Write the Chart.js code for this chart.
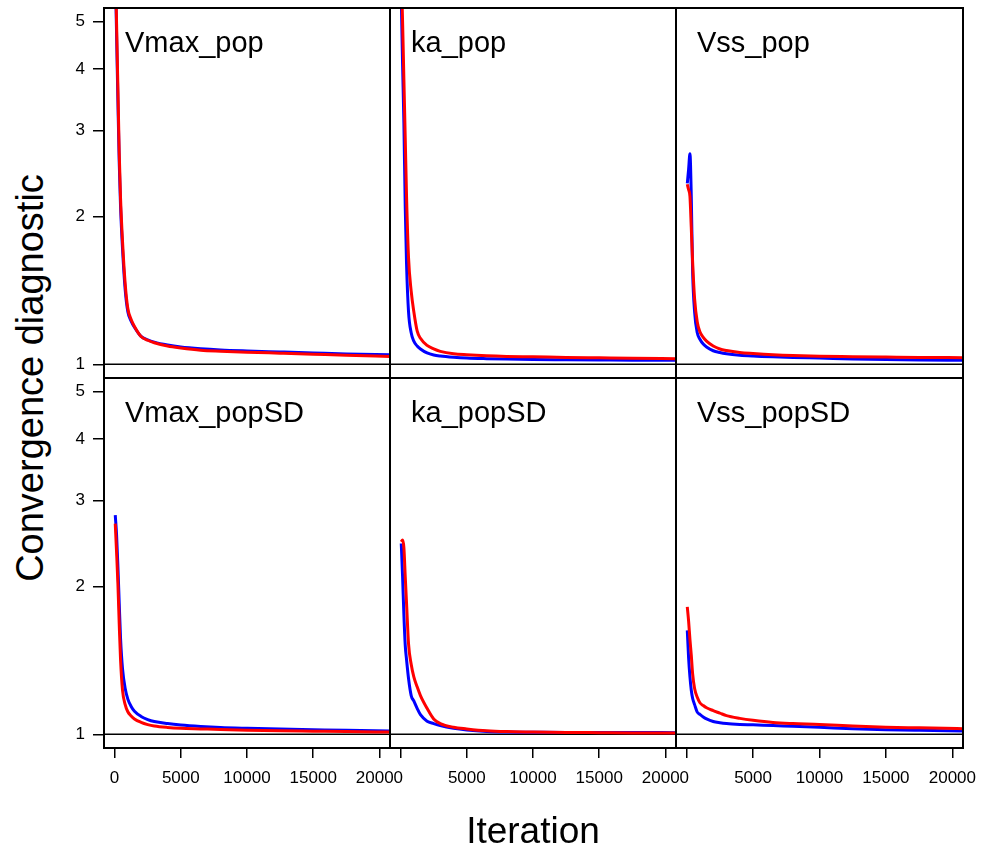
<!DOCTYPE html>
<html>
<head>
<meta charset="utf-8">
<title>Convergence diagnostic</title>
<script src="https://cdn.jsdelivr.net/npm/chart.js"></script>
<style>
    html, body { margin: 0; padding: 0; background: #fff; }
    #page { position: relative; width: 981px; height: 852px; overflow: hidden; background: #fff; }
    #page canvas { position: absolute; }
    #ylab {
        position: absolute;
        left: 30px;
        top: 378px;
        transform: translate(-50%, -50%) rotate(-90deg);
        font: 38px "Liberation Sans", Arial, sans-serif;
        color: #000;
        white-space: nowrap;
        line-height: 1;
    }
</style>
</head>
<body>
<div id="page">
    <div id="ylab">Convergence diagnostic</div>
</div>
<script>
// iterations at which the diagnostic was evaluated
const iterations = [50, 150, 250, 350, 450, 600, 800, 1000, 1250, 1500, 2000, 2500, 3000, 4000, 5000, 6500, 8000, 10000, 12500, 15000, 17500, 20800];

const xTicks = [0, 5000, 10000, 15000, 20000];
const yTicks = [1, 2, 3, 4, 5];
const refLevel = 1;

// axis limits
const xMin = -800, xMax = 20800;
const yMin = 0.938, yMax = 5.33;

// diagnostic values, blue and red line per parameter
const vmaxPopBlue = [6.5, 4.7, 3.45, 2.58, 2.10, 1.72, 1.42, 1.28, 1.225, 1.19, 1.14, 1.122, 1.11, 1.095, 1.085, 1.076, 1.07, 1.065, 1.06, 1.055, 1.05, 1.046];
const vmaxPopRed = [6.8, 4.95, 3.65, 2.70, 2.18, 1.78, 1.46, 1.30, 1.235, 1.195, 1.14, 1.12, 1.107, 1.09, 1.08, 1.069, 1.064, 1.059, 1.054, 1.049, 1.044, 1.038];

const kaPopBlue = [5.6, 4.1, 3.1, 2.1, 1.6, 1.28, 1.16, 1.115, 1.09, 1.075, 1.055, 1.045, 1.04, 1.034, 1.03, 1.027, 1.025, 1.023, 1.022, 1.021, 1.02, 1.019];
const kaPopRed = [6.3, 5.0, 3.8, 2.9, 2.2, 1.65, 1.41, 1.28, 1.17, 1.13, 1.093, 1.075, 1.063, 1.051, 1.046, 1.041, 1.038, 1.036, 1.033, 1.031, 1.029, 1.027];

const vssPopBlue = [2.34, 2.5, 2.69, 2.2, 1.55, 1.28, 1.16, 1.125, 1.1, 1.085, 1.066, 1.057, 1.051, 1.044, 1.04, 1.036, 1.033, 1.03, 1.026, 1.023, 1.021, 1.019];
const vssPopRed = [2.33, 2.27, 2.2, 1.9, 1.62, 1.36, 1.22, 1.165, 1.135, 1.115, 1.09, 1.075, 1.067, 1.057, 1.052, 1.046, 1.042, 1.039, 1.037, 1.035, 1.033, 1.032];

const vmaxPopSdBlue = [2.80, 2.55, 2.2, 1.85, 1.57, 1.36, 1.24, 1.18, 1.14, 1.115, 1.088, 1.072, 1.062, 1.052, 1.045, 1.038, 1.033, 1.029, 1.025, 1.022, 1.019, 1.016];
const vmaxPopSdRed = [2.69, 2.35, 2.03, 1.68, 1.42, 1.23, 1.15, 1.112, 1.09, 1.075, 1.058, 1.047, 1.04, 1.033, 1.029, 1.026, 1.023, 1.02, 1.017, 1.015, 1.013, 1.011];

const kaPopSdBlue = [2.45, 2.1, 1.75, 1.52, 1.42, 1.3, 1.2, 1.17, 1.13, 1.097, 1.064, 1.052, 1.042, 1.029, 1.021, 1.014, 1.011, 1.01, 1.009, 1.009, 1.009, 1.008];
const kaPopSdRed = [2.47, 2.49, 2.4, 2.1, 1.85, 1.53, 1.39, 1.31, 1.25, 1.2, 1.13, 1.075, 1.052, 1.034, 1.026, 1.017, 1.013, 1.011, 1.009, 1.008, 1.007, 1.007];

const vssPopSdBlue = [1.63, 1.43, 1.31, 1.23, 1.185, 1.15, 1.11, 1.098, 1.085, 1.075, 1.062, 1.056, 1.052, 1.048, 1.046, 1.042, 1.039, 1.034, 1.027, 1.022, 1.019, 1.016];
const vssPopSdRed = [1.82, 1.70, 1.56, 1.45, 1.33, 1.24, 1.19, 1.16, 1.145, 1.133, 1.118, 1.105, 1.092, 1.078, 1.068, 1.057, 1.052, 1.048, 1.04, 1.034, 1.031, 1.027];

const panels = [
    { name: 'Vmax_pop', blue: vmaxPopBlue, red: vmaxPopRed },
    { name: 'ka_pop', blue: kaPopBlue, red: kaPopRed },
    { name: 'Vss_pop', blue: vssPopBlue, red: vssPopRed },
    { name: 'Vmax_popSD', blue: vmaxPopSdBlue, red: vmaxPopSdRed },
    { name: 'ka_popSD', blue: kaPopSdBlue, red: kaPopSdRed },
    { name: 'Vss_popSD', blue: vssPopSdBlue, red: vssPopSdRed }
];

// page grid of the panel boxes
const colLeft = [104, 390, 676];
const colRight = [390, 676, 963];
const rowTop = [8, 378];
const rowBottom = [378, 748];
const pageW = 981, pageH = 852;

const fontFamily = '"Liberation Sans", Arial, sans-serif';
Chart.defaults.font.family = fontFamily;
Chart.defaults.color = '#000';

// box around each panel plus its name in the upper left corner
const panelFrame = {
    id: 'panelFrame',
    afterDraw(chart, args, opts) {
        const { ctx, chartArea: a } = chart;
        ctx.save();
        ctx.strokeStyle = '#000';
        ctx.lineWidth = 2;
        ctx.strokeRect(a.left, a.top, a.right - a.left, a.bottom - a.top);
        ctx.fillStyle = '#000';
        ctx.font = '29px ' + fontFamily;
        ctx.textBaseline = 'alphabetic';
        ctx.textAlign = 'left';
        ctx.fillText(opts.label, a.left + 21, a.top + 44);
        ctx.restore();
    }
};

const toPoints = (values) => values.map((v, i) => ({ x: iterations[i], y: v }));

function buildPanel(panel, idx) {
    const row = Math.floor(idx / 3);
    const col = idx % 3;
    const bottomRow = row === 1;
    const firstCol = col === 0;

    const padL = firstCol ? 0 : 30;
    const padR = col === 2 ? pageW - colRight[2] : 30;
    const padT = row === 0 ? rowTop[0] : 3;
    const padB = bottomRow ? 0 : 3;
    const yAxisW = firstCol ? colLeft[0] : 0;
    const xAxisH = bottomRow ? pageH - rowBottom[1] : 0;

    const left = colLeft[col] - padL - yAxisW;
    const top = rowTop[row] - padT;
    const width = colRight[col] + padR - left;
    const height = rowBottom[row] + padB + xAxisH - top;

    const canvas = document.createElement('canvas');
    canvas.width = width;
    canvas.height = height;
    canvas.style.left = left + 'px';
    canvas.style.top = top + 'px';
    canvas.style.width = width + 'px';
    canvas.style.height = height + 'px';
    document.getElementById('page').appendChild(canvas);

    return new Chart(canvas, {
        type: 'line',
        data: {
            datasets: [{
                label: 'red',
                data: toPoints(panel.red),
                borderColor: '#ff0000',
                order: 0
            }, {
                label: 'blue',
                data: toPoints(panel.blue),
                borderColor: '#0000ff',
                order: 1
            }, {
                label: 'ref',
                data: [{ x: xMin, y: refLevel }, { x: xMax, y: refLevel }],
                borderColor: '#000',
                borderWidth: 1.5,
                cubicInterpolationMode: 'default',
                order: 2
            }]
        },
        options: {
            responsive: false,
            animation: false,
            events: [],
            clip: 0,
            layout: { padding: { left: padL, right: padR, top: padT, bottom: padB } },
            elements: {
                point: { radius: 0 },
                line: { borderWidth: 3, cubicInterpolationMode: 'monotone', fill: false }
            },
            plugins: {
                legend: { display: false },
                tooltip: { enabled: false },
                panelFrame: { label: panel.name }
            },
            scales: {
                x: {
                    type: 'linear',
                    min: xMin,
                    max: xMax,
                    display: bottomRow,
                    afterBuildTicks: (s) => { s.ticks = xTicks.map(v => ({ value: v })); },
                    afterFit: (s) => { s.height = xAxisH; s.paddingLeft = 0; s.paddingRight = 0; },
                    grid: { drawOnChartArea: false, drawTicks: true, tickLength: 10, color: '#000', lineWidth: 1.5 },
                    border: { display: false },
                    ticks: {
                        color: '#000',
                        font: { size: 17 },
                        padding: 10,
                        maxRotation: 0,
                        autoSkip: false,
                        callback: (v) => (v === 0 && !firstCol) ? '' : String(v)
                    },
                    title: {
                        display: col === 1,
                        text: 'Iteration',
                        color: '#000',
                        font: { size: 37, lineHeight: 1.05 },
                        padding: 0
                    }
                },
                y: {
                    type: 'logarithmic',
                    min: yMin,
                    max: yMax,
                    display: firstCol,
                    afterBuildTicks: (s) => { s.ticks = yTicks.map(v => ({ value: v })); },
                    afterFit: (s) => { s.width = yAxisW; s.paddingTop = 0; s.paddingBottom = 0; },
                    grid: { drawOnChartArea: false, drawTicks: true, tickLength: 11, color: '#000', lineWidth: 1.5 },
                    border: { display: false },
                    ticks: {
                        color: '#000',
                        font: { size: 17 },
                        padding: 8,
                        callback: (v) => String(v)
                    }
                }
            }
        },
        plugins: [panelFrame]
    });
}

panels.forEach(buildPanel);
</script>
</body>
</html>
